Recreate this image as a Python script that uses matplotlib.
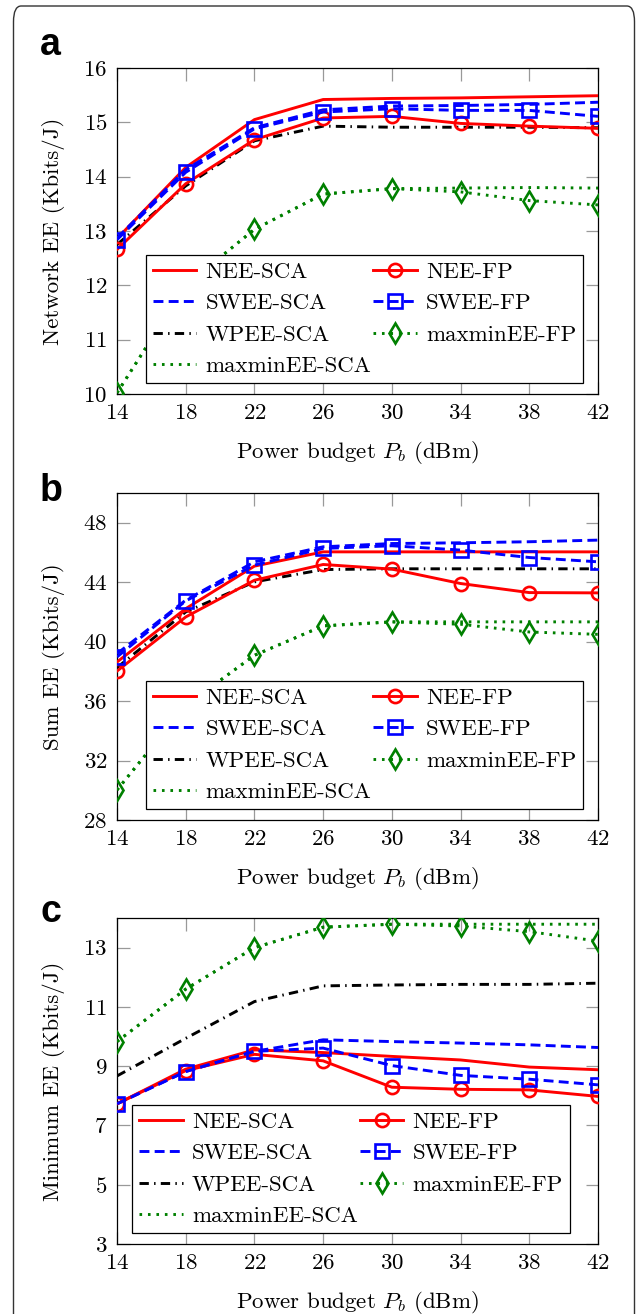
import matplotlib
matplotlib.use("Agg")
import matplotlib.pyplot as plt
from matplotlib.patches import FancyBboxPatch

plt.rcParams['font.family'] = ['cmr10', 'DejaVu Serif']
plt.rcParams['mathtext.fontset'] = 'cm'
plt.rcParams['axes.formatter.use_mathtext'] = True

x = [14, 18, 22, 26, 30, 34, 38, 42]
xticks = [14, 18, 22, 26, 30, 34, 38, 42]

# Panel a: Network EE (Kbits/J)
a_nee_sca = [12.86, 14.17, 15.05, 15.42, 15.44, 15.45, 15.47, 15.49]
a_nee_fp = [12.66, 13.87, 14.68, 15.08, 15.11, 14.98, 14.93, 14.89]
a_swee_sca = [12.87, 14.13, 14.90, 15.23, 15.30, 15.31, 15.33, 15.37]
a_swee_fp = [12.84, 14.08, 14.88, 15.19, 15.25, 15.22, 15.22, 15.11]
a_wpee_sca = [12.75, 13.83, 14.66, 14.93, 14.91, 14.91, 14.91, 14.90]
a_mm_sca = [10.02, 12.00, 13.03, 13.68, 13.78, 13.79, 13.80, 13.79]
a_mm_fp = [10.02, 12.00, 13.03, 13.68, 13.78, 13.72, 13.56, 13.48]
a_yticks = [10, 11, 12, 13, 14, 15, 16]

# Panel b: Sum EE (Kbits/J)
b_nee_sca = [38.63, 42.22, 45.08, 46.04, 46.04, 46.04, 46.04, 46.04]
b_nee_fp = [38.02, 41.66, 44.13, 45.19, 44.88, 43.91, 43.30, 43.28]
b_swee_sca = [39.19, 42.79, 45.37, 46.38, 46.60, 46.65, 46.72, 46.83]
b_swee_fp = [38.97, 42.74, 45.15, 46.27, 46.45, 46.16, 45.66, 45.37]
b_wpee_sca = [38.25, 42.00, 44.02, 44.85, 44.90, 44.90, 44.90, 44.90]
b_mm_sca = [30.02, 35.70, 39.08, 41.06, 41.33, 41.33, 41.33, 41.33]
b_mm_fp = [30.02, 35.70, 39.08, 41.06, 41.33, 41.17, 40.65, 40.49]
b_yticks = [28, 32, 36, 40, 44, 48]

# Panel c: Minimum EE (Kbits/J)
c_nee_sca = [7.73, 8.90, 9.55, 9.46, 9.33, 9.21, 8.97, 8.88]
c_nee_fp = [7.73, 8.85, 9.40, 9.18, 8.29, 8.22, 8.20, 7.98]
c_swee_sca = [7.73, 8.82, 9.50, 9.89, 9.83, 9.78, 9.72, 9.63]
c_swee_fp = [7.73, 8.82, 9.50, 9.61, 9.02, 8.69, 8.56, 8.37]
c_wpee_sca = [8.67, 9.94, 11.18, 11.71, 11.74, 11.76, 11.76, 11.80]
c_mm_sca = [9.83, 11.60, 13.00, 13.69, 13.79, 13.79, 13.79, 13.79]
c_mm_fp = [9.83, 11.60, 13.00, 13.69, 13.79, 13.73, 13.54, 13.22]
c_yticks = [3, 5, 7, 9, 11, 13]

labels = ['NEE-SCA', 'NEE-FP', 'SWEE-SCA', 'SWEE-FP', 'WPEE-SCA',
          'maxminEE-SCA', 'maxminEE-FP']

RED = '#ff0000'
BLUE = '#0000ff'
GREEN = '#008000'

panels = [
    ('a', [a_nee_sca, a_nee_fp, a_swee_sca, a_swee_fp, a_wpee_sca, a_mm_sca, a_mm_fp],
     a_yticks, (10, 16), 'Network EE (Kbits/J)', 394, 68, 55),
    ('b', [b_nee_sca, b_nee_fp, b_swee_sca, b_swee_fp, b_wpee_sca, b_mm_sca, b_mm_fp],
     b_yticks, (28, 50), 'Sum EE (Kbits/J)', 820, 493, 501),
    ('c', [c_nee_sca, c_nee_fp, c_swee_sca, c_swee_fp, c_wpee_sca, c_mm_sca, c_mm_fp],
     c_yticks, (3, 14), 'Minimum EE (Kbits/J)', 1244, 918, 922),
]

W, H = 637, 1314
fig = plt.figure(figsize=(W / 100, H / 100), dpi=100)

# outer rounded frame
frame = FancyBboxPatch((13.5 / W, -0.05), (634.5 - 13.5) / W, 1.05 - 6 / H,
                       boxstyle='round,pad=0,rounding_size=0.012',
                       transform=fig.transFigure, fill=False, edgecolor='#333333',
                       linewidth=1.0, zorder=0)
fig.patches.append(frame)

FS = 16.5
lw = 2.1
left, right = 117, 598
legend_x0 = [0.060, 0.060, 0.032]

for i, (letter, series, yt, ylim, ylabel, bot, top, lety) in enumerate(panels):
    ax = fig.add_axes([left / W, 1 - bot / H, (right - left) / W, (bot - top) / H])
    nee_sca, nee_fp, swee_sca, swee_fp, wpee_sca, mm_sca, mm_fp = series
    h1, = ax.plot(x, nee_sca, color=RED, lw=lw, ls='-', zorder=3)
    h3, = ax.plot(x, swee_sca, color=BLUE, lw=lw, ls=(0, (3.4, 1.8)), zorder=3)
    h5, = ax.plot(x, wpee_sca, color='black', lw=lw, ls=(0, (3.2, 1.8, 0.5, 1.8)), zorder=3)
    h6, = ax.plot(x, mm_sca, color=GREEN, lw=lw, ls=(0, (0.9, 2.0)), zorder=3)
    h2, = ax.plot(x, nee_fp, color=RED, lw=lw, ls='-', marker='o', ms=9.5,
                  mfc='none', mec=RED, mew=1.9, zorder=4)
    h4, = ax.plot(x, swee_fp, color=BLUE, lw=lw, ls=(0, (3.4, 1.8)), marker='s', ms=9.5,
                  mfc='none', mec=BLUE, mew=1.9, zorder=4)
    h7, = ax.plot(x, mm_fp, color=GREEN, lw=lw, ls=(0, (0.9, 2.0)), marker='d', ms=10,
                  mfc='none', mec=GREEN, mew=1.9, zorder=4)
    ax.set_xlim(14, 42)
    ax.set_ylim(*ylim)
    ax.set_xticks(xticks)
    ax.set_yticks(yt)
    ax.tick_params(direction='in', length=9, width=0.9, color='#999999',
                   top=True, right=True, labelsize=FS, pad=7)
    for s in ax.spines.values():
        s.set_linewidth(0.9)
        s.set_color('black')
    ax.set_ylabel(ylabel, fontsize=FS, labelpad=13)
    ax.set_xlabel(r'Power budget $P_b$ (dBm)', fontsize=FS, labelpad=11)
    handles = [h1, h3, h5, h6, h2, h4, h7]
    labs = [labels[0], labels[2], labels[4], labels[5], labels[1], labels[3], labels[6]]
    x0 = legend_x0[i]
    leg = ax.legend(handles, labs, ncol=2, loc='lower left',
                    bbox_to_anchor=(x0, 0.033, 0.909, 0.40), mode='expand',
                    fontsize=FS, frameon=True, fancybox=False, framealpha=1,
                    edgecolor='black', borderaxespad=0, handlelength=1.9,
                    handletextpad=0.4, labelspacing=0.5, borderpad=0.3,
                    columnspacing=0.8)
    leg.get_frame().set_linewidth(0.9)
    leg.set_zorder(10)
    fig.text(40 / W, 1 - lety / H, letter, fontsize=27, fontweight='bold',
             family='Liberation Sans', ha='left', va='baseline')

fig.savefig('out.png', dpi=100)
